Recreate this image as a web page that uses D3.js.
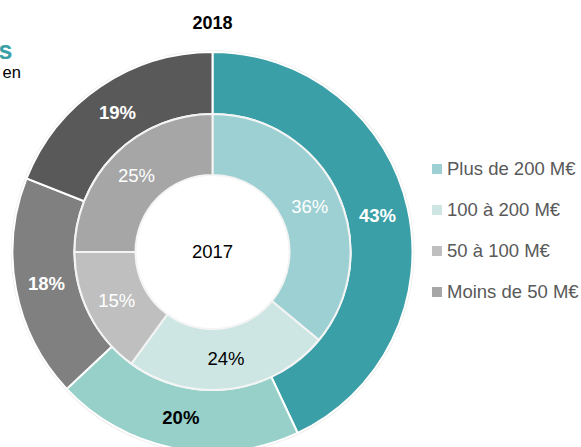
<!DOCTYPE html>
<html>
<head>
<meta charset="utf-8">
<script src="https://d3js.org/d3.v7.min.js"></script>
<style>
  body { margin: 0; background: #fff; }
  svg { display: block; font-family: "Liberation Sans", Arial, sans-serif; }
</style>
</head>
<body>
<div class="chart"></div>
<script>
// tranches de chiffre d'affaires
var categories = ["Plus de 200 M€", "100 à 200 M€", "50 à 100 M€", "Moins de 50 M€"];
var values2018 = [43, 20, 18, 19];
var values2017 = [36, 24, 15, 25];
var colors2018 = ["#3a9fa6", "#96d0c9", "#808080", "#595959"];
var colors2017 = ["#9dd0d3", "#cde6e3", "#bfbfbf", "#a6a6a6"];
var labelColors2018 = ["#fff", "#000", "#fff", "#fff"];
var labelColors2017 = ["#fff", "#000", "#fff", "#fff"];

var w = 581, h = 447;
var cx = 212.5, cy = 252;

var svg = d3.select("div.chart").append("svg")
    .attr("width", w)
    .attr("height", h);

var pie = d3.pie().sort(null).value(function(d){ return d; });

var outerArc = d3.arc().innerRadius(138).outerRadius(200);
var innerArc = d3.arc().innerRadius(77).outerRadius(138);

var g = svg.append("g").attr("transform", "translate(" + cx + "," + cy + ")");

// anneau 2018 (extérieur)
g.append("circle").attr("r", 201).attr("fill", "none").attr("stroke", "#ececec").attr("stroke-width", 1.5);

g.selectAll("path.outer")
    .data(pie(values2018))
    .enter().append("path")
    .attr("class", "outer")
    .attr("d", outerArc)
    .attr("fill", function(d, i){ return colors2018[i]; })
    .attr("stroke", "#fff")
    .attr("stroke-width", 2);

// anneau 2017 (intérieur)
g.selectAll("path.inner")
    .data(pie(values2017))
    .enter().append("path")
    .attr("class", "inner")
    .attr("d", innerArc)
    .attr("fill", function(d, i){ return colors2017[i]; })
    .attr("stroke", "#f4f4f4")
    .attr("stroke-width", 2);

g.selectAll("text.outer")
    .data(pie(values2018))
    .enter().append("text")
    .attr("class", "outer")
    .attr("transform", function(d){ return "translate(" + outerArc.centroid(d) + ")"; })
    .attr("text-anchor", "middle")
    .attr("dy", "0.35em")
    .attr("font-size", "18.5px")
    .attr("font-weight", "bold")
    .attr("fill", function(d, i){ return labelColors2018[i]; })
    .text(function(d){ return d.data + "%"; });

g.selectAll("text.inner")
    .data(pie(values2017))
    .enter().append("text")
    .attr("class", "inner")
    .attr("transform", function(d){ return "translate(" + innerArc.centroid(d) + ")"; })
    .attr("text-anchor", "middle")
    .attr("dy", "0.35em")
    .attr("font-size", "18.5px")
    .attr("fill", function(d, i){ return labelColors2017[i]; })
    .text(function(d){ return d.data + "%"; });

g.append("text")
    .attr("text-anchor", "middle")
    .attr("dy", "0.35em")
    .attr("font-size", "18.5px")
    .attr("fill", "#000")
    .text("2017");

svg.append("text")
    .attr("x", cx).attr("y", 29)
    .attr("text-anchor", "middle")
    .attr("font-size", "18px")
    .attr("font-weight", "bold")
    .text("2018");

// restes du titre à gauche (coupé)
svg.append("text")
    .attr("x", 12.5).attr("y", 59)
    .attr("text-anchor", "end")
    .attr("font-size", "25px")
    .attr("font-weight", "bold")
    .attr("fill", "#3a9fa6")
    .text("s");
svg.append("text")
    .attr("x", 2.5).attr("y", 78)
    .attr("font-size", "16.5px")
    .attr("fill", "#000")
    .text("en");

// légende
var legendY = d3.scalePoint().domain(categories).range([169, 292]);
var legend = svg.selectAll("g.legend")
    .data(categories)
    .enter().append("g")
    .attr("class", "legend")
    .attr("transform", function(d){ return "translate(432," + legendY(d) + ")"; });

legend.append("rect")
    .attr("x", 0).attr("y", -5)
    .attr("width", 10).attr("height", 10)
    .attr("fill", function(d, i){ return colors2017[i]; });

legend.append("text")
    .attr("x", 15)
    .attr("dy", "0.35em")
    .attr("font-size", "18.5px")
    .attr("fill", "#595959")
    .text(function(d){ return d; });
</script>
</body>
</html>
